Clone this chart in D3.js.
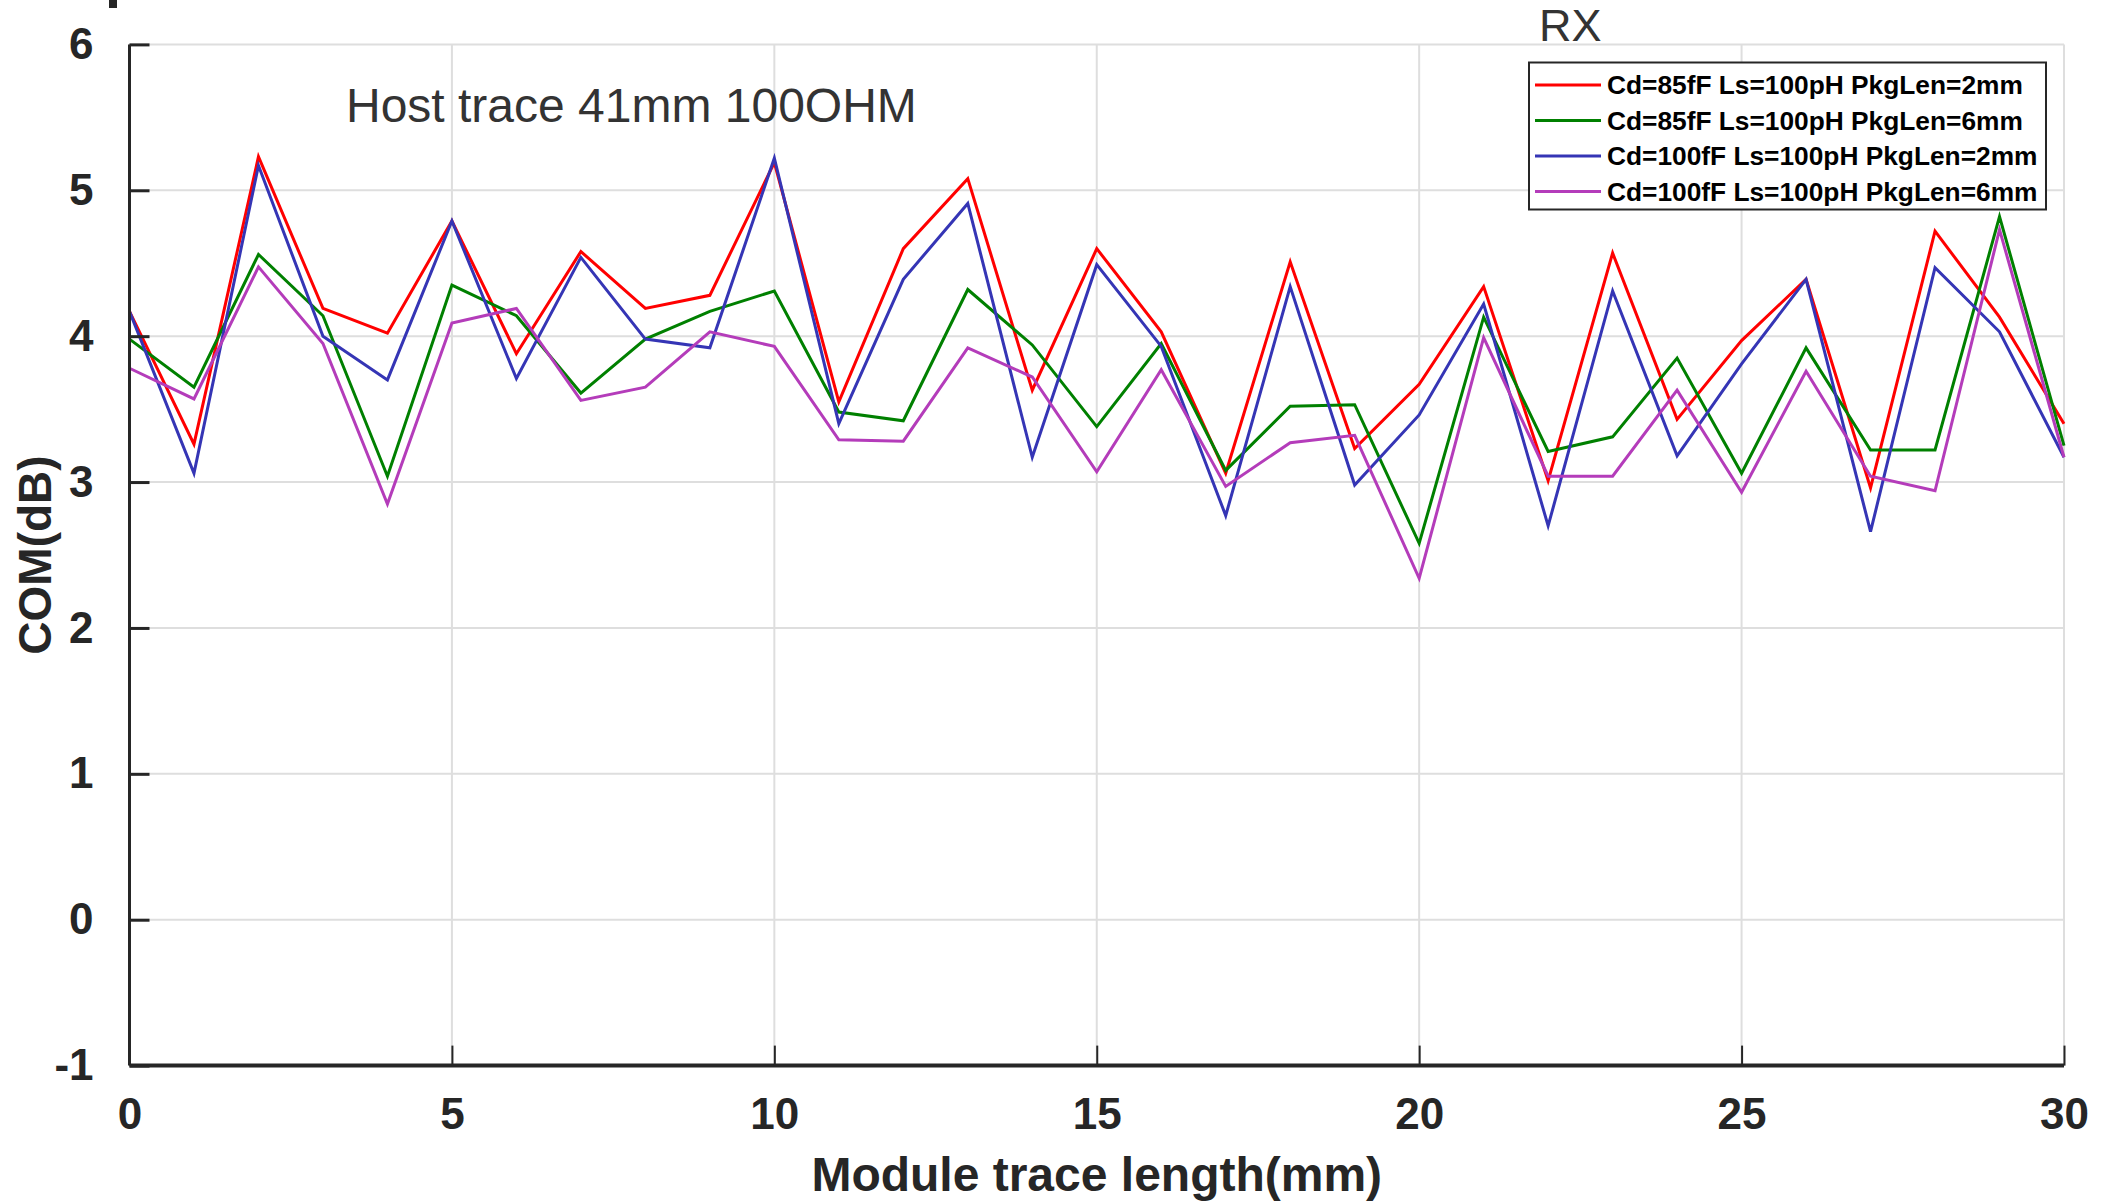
<!DOCTYPE html>
<html>
<head>
<meta charset="utf-8">
<script src="https://cdn.jsdelivr.net/npm/d3@7"></script>
<style>
  html, body { margin: 0; padding: 0; background: #fff; }
  svg { display: block; }
  text { font-family: "Liberation Sans", Arial, sans-serif; }
</style>
</head>
<body>
<div id="chart"></div>
<script>
// module trace length (mm)
const traceLen = [0,1,2,3,4,5,6,7,8,9,10,11,12,13,14,15,16,17,18,19,20,21,22,23,24,25,26,27,28,29,30];

// COM (dB) per case
const cd85Pkg2 = [4.17,3.26,5.23,4.19,4.02,4.79,3.88,4.58,4.19,4.28,5.19,3.55,4.60,5.08,3.63,4.60,4.03,3.06,4.51,3.23,3.67,4.34,3.01,4.57,3.43,3.97,4.39,2.96,4.72,4.13,3.40];
const cd85Pkg6 = [3.98,3.65,4.56,4.14,3.04,4.35,4.14,3.61,3.98,4.17,4.31,3.48,3.42,4.32,3.94,3.38,3.95,3.08,3.52,3.53,2.58,4.13,3.21,3.31,3.85,3.06,3.92,3.22,3.22,4.82,3.25];
const cd100Pkg2 = [4.17,3.06,5.17,4.00,3.70,4.79,3.71,4.54,3.98,3.92,5.22,3.40,4.39,4.91,3.17,4.49,3.93,2.77,4.34,2.98,3.46,4.22,2.70,4.31,3.18,3.81,4.39,2.66,4.47,4.03,3.17];
const cd100Pkg6 = [3.78,3.57,4.475,3.95,2.85,4.09,4.19,3.56,3.65,4.03,3.93,3.29,3.28,3.92,3.72,3.07,3.77,2.97,3.27,3.32,2.34,3.99,3.04,3.04,3.63,2.93,3.76,3.04,2.94,4.73,3.17];

const seriesNames = [
  "Cd=85fF Ls=100pH PkgLen=2mm",
  "Cd=85fF Ls=100pH PkgLen=6mm",
  "Cd=100fF Ls=100pH PkgLen=2mm",
  "Cd=100fF Ls=100pH PkgLen=6mm"
];
const seriesColors = ["#ff0000", "#008000", "#3535b5", "#b43cba"];

const xTicks = [0,5,10,15,20,25,30];
const yTicks = [-1,0,1,2,3,4,5,6];

const W = 2107, H = 1203;
const margin = { left: 129.5, right: W - 2064, top: 44.4, bottom: H - 1065.6 };

const svg = d3.select("#chart").append("svg")
  .attr("width", W)
  .attr("height", H);

const x = d3.scaleLinear().domain([0, 30]).range([margin.left, W - margin.right]);
const y = d3.scaleLinear().domain([-1, 6]).range([H - margin.bottom, margin.top]);

// grid
svg.append("g")
  .selectAll("line")
  .data(xTicks)
  .join("line")
  .attr("x1", d => x(d)).attr("x2", d => x(d))
  .attr("y1", y(6)).attr("y2", y(-1))
  .attr("stroke", "#dedede").attr("stroke-width", 2);
svg.append("g")
  .selectAll("line")
  .data(yTicks)
  .join("line")
  .attr("x1", x(0)).attr("x2", x(30))
  .attr("y1", d => y(d)).attr("y2", d => y(d))
  .attr("stroke", "#dedede").attr("stroke-width", 2);

// lines
const line = d3.line().x((d, i) => x(traceLen[i])).y(d => y(d));
const allSeries = [cd85Pkg2, cd85Pkg6, cd100Pkg2, cd100Pkg6];
svg.append("g")
  .selectAll("path")
  .data(allSeries)
  .join("path")
  .attr("d", d => line(d))
  .attr("fill", "none")
  .attr("stroke", (d, i) => seriesColors[i])
  .attr("stroke-width", 3)
  .attr("stroke-linejoin", "miter");

// axes (plain hyphen for negatives, like the original)
const fmt = d => String(d);
const xAxis = d3.axisBottom(x).tickValues(xTicks).tickSize(-20).tickPadding(32).tickFormat(fmt);
const yAxis = d3.axisLeft(y).tickValues(yTicks).tickSize(-20).tickPadding(36).tickFormat(fmt);

const gx = svg.append("g").attr("transform", `translate(0,${y(-1)})`).call(xAxis);
gx.select(".domain").attr("stroke", "#262626").attr("stroke-width", 4).attr("d", `M${x(0)},0H${x(30)}`);
gx.selectAll(".tick line").attr("stroke", "#262626").attr("stroke-width", 2);
gx.selectAll(".tick text")
  .attr("font-size", 44).attr("font-weight", "bold").attr("fill", "#262626")
  .attr("font-family", "Liberation Sans, Arial, sans-serif");

const gy = svg.append("g").attr("transform", `translate(${x(0)},0)`).call(yAxis);
gy.select(".domain").attr("stroke", "#262626").attr("stroke-width", 3).attr("d", `M0,${y(6)}V${y(-1)}`);
gy.selectAll(".tick line").attr("stroke", "#262626").attr("stroke-width", 3);
gy.selectAll(".tick text")
  .attr("font-size", 44).attr("font-weight", "bold").attr("fill", "#262626")
  .attr("font-family", "Liberation Sans, Arial, sans-serif");

// axis titles
svg.append("text")
  .attr("x", (x(0) + x(30)) / 2).attr("y", 1191)
  .attr("text-anchor", "middle")
  .attr("font-size", 48).attr("font-weight", "bold").attr("fill", "#262626")
  .text("Module trace length(mm)");

svg.append("text")
  .attr("transform", `translate(51,${(y(6) + y(-1)) / 2}) rotate(-90)`)
  .attr("text-anchor", "middle")
  .attr("font-size", 46).attr("font-weight", "bold").attr("fill", "#262626")
  .text("COM(dB)");

// annotations
svg.append("text")
  .attr("x", 1539).attr("y", 41)
  .attr("font-size", 45).attr("fill", "#333")
  .text("RX");

svg.append("text")
  .attr("x", 346).attr("y", 122)
  .attr("font-size", 48).attr("fill", "#333")
  .text("Host trace 41mm 100OHM");

// clipped remnant at top-left
svg.append("rect")
  .attr("x", 109).attr("y", 0).attr("width", 8).attr("height", 8)
  .attr("fill", "#262626");

// legend
const lg = svg.append("g").attr("transform", "translate(1529,62.5)");
lg.append("rect")
  .attr("width", 517).attr("height", 147)
  .attr("fill", "#fff").attr("stroke", "#262626").attr("stroke-width", 2);
const rows = lg.selectAll("g.row")
  .data(seriesNames)
  .join("g")
  .attr("class", "row")
  .attr("transform", (d, i) => `translate(0,${22.5 + i * 35.5})`);
rows.append("line")
  .attr("x1", 6).attr("x2", 72)
  .attr("stroke", (d, i) => seriesColors[i]).attr("stroke-width", 3);
rows.append("text")
  .attr("x", 78).attr("y", 9)
  .attr("font-size", 26.3).attr("font-weight", "bold").attr("fill", "#000")
  .text(d => d);
</script>
</body>
</html>
